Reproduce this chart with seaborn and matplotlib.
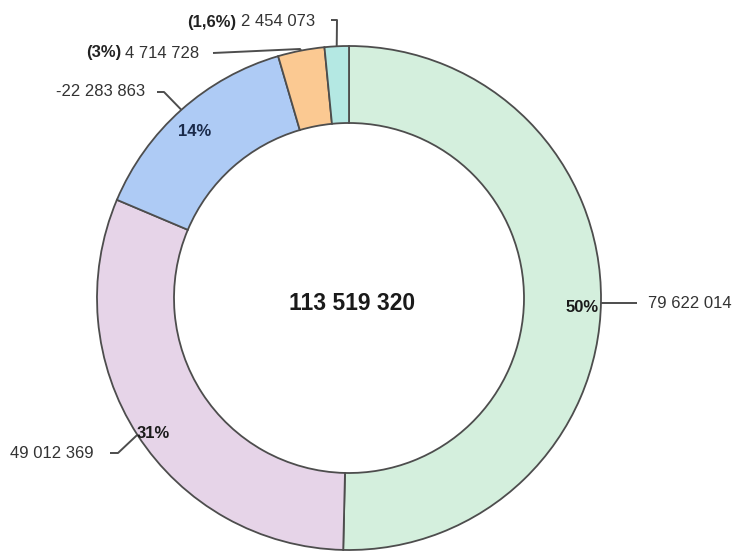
import numpy as np
import matplotlib
matplotlib.use("Agg")
import matplotlib.pyplot as plt
import seaborn as sns

# ---- data ----
categories = ["A", "B", "C", "D", "E"]
values = [79622014, 49012369, -22283863, 4714728, 2454073]
value_labels = ["79 622 014", "49 012 369", "-22 283 863", "4 714 728", "2 454 073"]
pct_labels = ["50%", "31%", "14%", "(3%)", "(1,6%)"]
total_label = "113 519 320"
colors = ["#d4efdd", "#e6d4e8", "#aecbf5", "#fbc992", "#b4e8e3"]

sns.set_theme(style="white")
plt.rcParams['font.family'] = ['Liberation Sans', 'DejaVu Sans']

W, H = 735, 552
CX, CY = 349, 298
R_OUT, R_IN = 252, 175

fig = plt.figure(figsize=(W / 100, H / 100), dpi=100)
ax = fig.add_axes([0, 0, 1, 1])


def px(x, y):
    return (x - CX, CY - y)


sizes = [abs(v) for v in values]
wedges, _ = ax.pie(sizes, colors=colors, startangle=90, counterclock=False,
                   radius=R_OUT, center=(0, 0),
                   wedgeprops=dict(width=R_OUT - R_IN, edgecolor="#4d4d4d", linewidth=1.3))
ax.set_xlim(-CX, W - CX)
ax.set_ylim(-(H - CY), CY)
ax.set_aspect("equal")
ax.axis("off")

# center total
ax.text(*px(352, 304), total_label, ha="center", va="center", fontsize=16.5,
        fontweight="bold", color="#1a1a1a")

# leader lines: (elbow, end) in pixel layout
leaders = [
    [(620, 303), (637, 303)],
    [(118, 453), (110, 453)],
    [(164, 92), (157, 92)],
    [(300, 49), (213, 53)],
    [(337, 20), (331, 20)],
]
for w, pts in zip(wedges, leaders):
    mid = np.deg2rad((w.theta1 + w.theta2) / 2)
    ax_, ay_ = R_OUT * np.cos(mid), R_OUT * np.sin(mid)
    xs = [ax_] + [px(*p)[0] for p in pts]
    ys = [ay_] + [px(*p)[1] for p in pts]
    if pts[0][1] == pts[1][1] and abs(pts[0][0] - pts[1][0]) > 10:
        xs = [ax_, xs[2]]
        ys = [ys[2], ys[2]]
    ax.plot(xs, ys, color="#4d4d4d", lw=1.4, solid_capstyle="butt", zorder=3)

val_color = "#333333"
fs = 12
# value labels
ax.text(*px(648, 303), value_labels[0], ha="left", va="center", fontsize=fs, color=val_color)
ax.text(*px(94, 454), value_labels[1], ha="right", va="center", fontsize=fs, color=val_color)
ax.text(*px(145, 92), value_labels[2], ha="right", va="center", fontsize=fs, color=val_color)
ax.text(*px(86, 53), pct_labels[3], ha="left", va="center", fontsize=fs,
        fontweight="bold", color="#222222")
ax.text(*px(125, 53), value_labels[3], ha="left", va="center", fontsize=fs, color=val_color)
ax.text(*px(187, 22), pct_labels[4], ha="left", va="center", fontsize=fs,
        fontweight="bold", color="#222222")
ax.text(*px(241, 22), value_labels[4], ha="left", va="center", fontsize=fs, color=val_color)

# percentage labels inside ring
ax.text(*px(582, 308), pct_labels[0], ha="center", va="center", fontsize=fs,
        fontweight="bold", color="#1a1a1a")
ax.text(*px(153, 433), pct_labels[1], ha="center", va="center", fontsize=fs,
        fontweight="bold", color="#1a1a1a")
ax.text(*px(195, 132), pct_labels[2], ha="center", va="center", fontsize=fs,
        fontweight="bold", color="#1a2a4a")

fig.savefig("out.png", dpi=100, facecolor="white")
